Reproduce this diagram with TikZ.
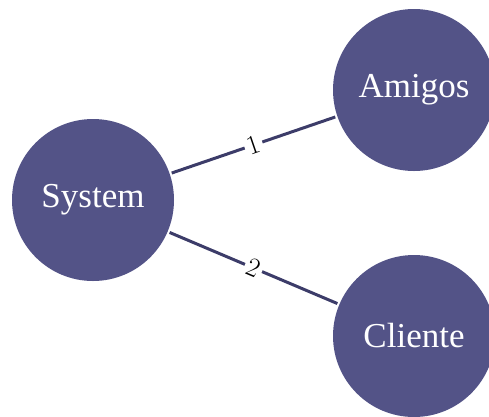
\documentclass[tikz,border=0pt]{standalone}
\usepackage{fontspec}
\setmainfont{Liberation Serif}
\newfontfamily\numfont{Latin Modern Roman}
\usetikzlibrary{positioning}
\definecolor{nodeblue}{RGB}{83,83,135}
\definecolor{edgeblue}{RGB}{60,60,105}

\begin{document}
\begin{tikzpicture}[x=1pt, y=-1pt,
			entity/.style={circle, fill=nodeblue, text=white, minimum size=162pt, inner sep=0pt, font=\fontsize{35}{40}\selectfont},
			link/.style={draw=edgeblue, line width=3pt, shorten <=2pt, shorten >=2pt},
			num/.style={fill=white, sloped, inner sep=3pt, font=\numfont\fontsize{27}{30}\selectfont}]
			\useasboundingbox (0,0) rectangle (489,416);
			\node[entity] (system) at (93,200) {System};
			\node[entity] (amigos) at (414,90) {Amigos};
			\node[entity] (cliente) at (414,336) {Cliente};
			\draw[link] (system) -- node[num] {1} (amigos);
			\draw[link] (system) -- node[num] {2} (cliente);
		\end{tikzpicture}
\end{document}
